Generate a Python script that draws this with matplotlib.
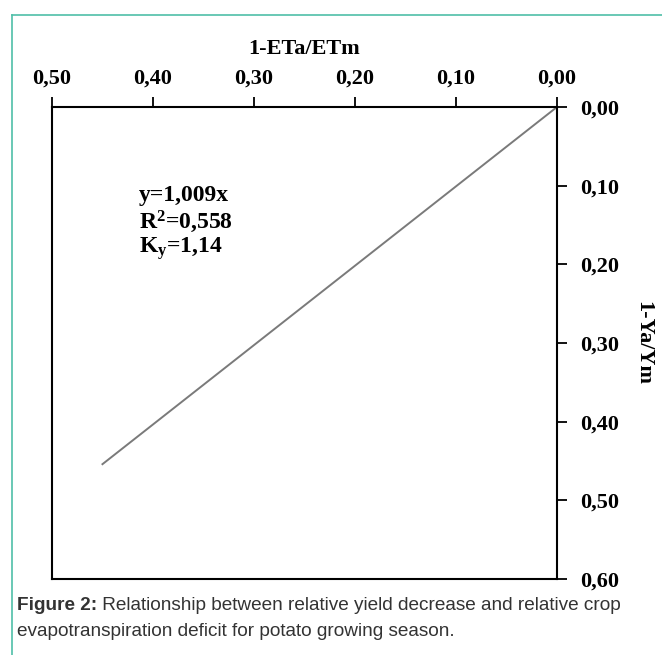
import matplotlib
matplotlib.use("Agg")
import matplotlib.pyplot as plt
from matplotlib.ticker import FuncFormatter
from matplotlib.lines import Line2D

# data
eta_deficit = [0.00, 0.45]          # 1-ETa/ETm
yield_decrease = [0.00, 0.454]      # 1-Ya/Ym
x_ticks = [0.50, 0.40, 0.30, 0.20, 0.10, 0.00]
y_ticks = [0.00, 0.10, 0.20, 0.30, 0.40, 0.50, 0.60]
equation_lines = ["y=1,009x", "R$^\\mathrm{2}$=0,558", "K$_\\mathrm{y}$=1,14"]
caption_bold = "Figure 2:"
caption_rest = " Relationship between relative yield decrease and relative crop"
caption_line2 = "evapotranspiration deficit for potato growing season."

plt.rcParams['mathtext.fontset'] = 'custom'
plt.rcParams['mathtext.rm'] = 'Liberation Serif:bold'
plt.rcParams['mathtext.it'] = 'Liberation Serif:bold'

serif = dict(family='Liberation Serif', weight='bold')

def comma(v, pos):
    return f"{v:.2f}".replace('.', ',')

fig = plt.figure(figsize=(6.62, 6.55), dpi=100)
ax = fig.add_axes([0.0785, 0.116, 0.7628, 0.7206])

ax.plot(eta_deficit, yield_decrease, color='#7a7a7a', linewidth=1.4)

ax.set_xlim(0.50, 0.00)
ax.set_ylim(0.60, 0.00)
ax.set_xticks(x_ticks)
ax.set_yticks(y_ticks)
ax.xaxis.set_major_formatter(FuncFormatter(comma))
ax.yaxis.set_major_formatter(FuncFormatter(comma))
ax.xaxis.tick_top()
ax.yaxis.tick_right()
ax.tick_params(direction='out', length=7, width=1.3, color='black')
ax.tick_params(axis='x', pad=6)
ax.tick_params(axis='y', pad=10)
for lab in ax.get_xticklabels() + ax.get_yticklabels():
    lab.set_fontfamily('Liberation Serif')
    lab.set_fontweight('bold')
    lab.set_fontsize(16)
for s in ax.spines.values():
    s.set_linewidth(1.5)
    s.set_color('black')

ax.xaxis.set_label_position('top')
ax.set_xlabel("1-ETa/ETm", fontsize=16, labelpad=11, **serif)
ax.text(1.17, 0.5, "1-Ya/Ym", fontsize=16, rotation=270, ha='center', va='center',
        transform=ax.transAxes, **serif)

for i, t in enumerate(equation_lines):
    ax.text(0.414, 0.112 + i * 0.0337, t, fontsize=17, ha='left', va='center', **serif)

# caption below the chart
cap = fig.text(17 / 662, 1 - 605 / 655, caption_bold, fontsize=13.7, weight='bold',
               family='Liberation Sans', color='#333333', va='center')
fig.canvas.draw()
bb = cap.get_window_extent()
fig.text(bb.x1 / fig.bbox.width, 1 - 605 / 655, caption_rest, fontsize=13.7,
         family='Liberation Sans', color='#333333', va='center')
fig.text(17 / 662, 1 - 632 / 655, caption_line2, fontsize=13.7,
         family='Liberation Sans', color='#333333', va='center')

# teal frame on top and left
teal = '#4fbfa8'
fig.add_artist(Line2D([11.7 / 662, 1.0], [1 - 15 / 655, 1 - 15 / 655], color=teal,
                      linewidth=1.2, transform=fig.transFigure))
fig.add_artist(Line2D([11.7 / 662, 11.7 / 662], [1 - 15 / 655, 0.0], color=teal,
                      linewidth=1.2, transform=fig.transFigure))

fig.savefig("out.png", dpi=100)
